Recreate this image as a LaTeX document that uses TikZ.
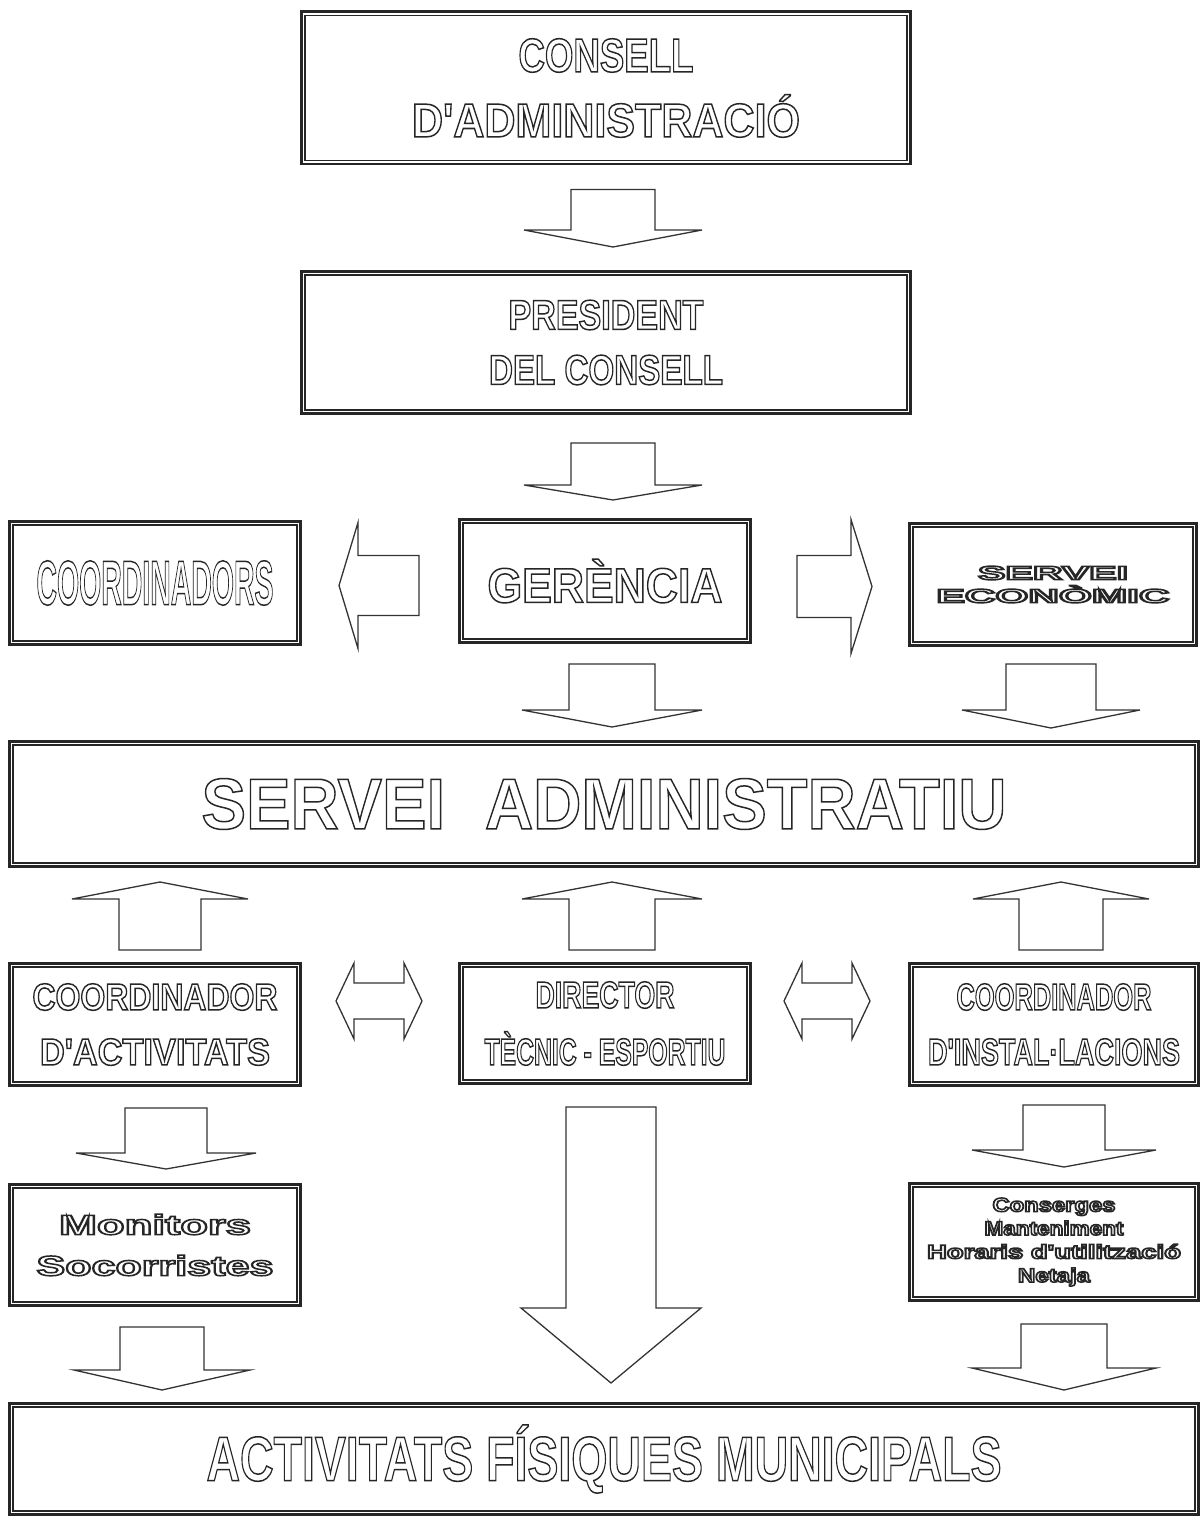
\documentclass[tikz,border=0pt]{standalone}
\usepackage{fontspec}
\usepackage{graphicx}
\usetikzlibrary{calc}
\newfontfamily\orgfont{Liberation Sans}
% hollow letters: stroke the glyph outlines only
\newcommand{\hollow}[1]{\special{pdf:literal direct 1 Tr 1.5 w}#1\special{pdf:literal direct 0 Tr}}
\newcommand{\fitline}[2]{\resizebox{#1pt}{\height}{\hollow{#2}}}
% block arrow between two node anchors, vertical: (xshift:gap from:gap to:shaft:head:head length)
\def\vblock(#1)(#2)(#3:#4:#5:#6:#7:#8){\draw[blockarrow] let \p1=(#1), \p2=(#2), \n1={ifthenelse(\y2>\y1,1,-1)}, \n2={\x1+(#3)}, \n3={\y1+\n1*#4}, \n4={\y2-\n1*#5}, \n5={\n4-\n1*#8} in ({\n2-#6},\n3) -- ({\n2+#6},\n3) -- ({\n2+#6},\n5) -- ({\n2+#7},\n5) -- (\n2,\n4) -- ({\n2-#7},\n5) -- ({\n2-#6},\n5) -- cycle;}
% horizontal: (yshift:gap from:gap to:shaft:head:head length)
\def\hblock(#1)(#2)(#3:#4:#5:#6:#7:#8){\draw[blockarrow] let \p1=(#1), \p2=(#2), \n1={ifthenelse(\x2>\x1,1,-1)}, \n2={\y1+(#3)}, \n3={\x1+\n1*#4}, \n4={\x2-\n1*#5}, \n5={\n4-\n1*#8} in (\n3,{\n2-#6}) -- (\n5,{\n2-#6}) -- (\n5,{\n2-#7}) -- (\n4,\n2) -- (\n5,{\n2+#7}) -- (\n5,{\n2+#6}) -- (\n3,{\n2+#6}) -- cycle;}
% double headed, left node east to right node west
\def\dblock(#1)(#2)(#3:#4:#5:#6:#7:#8){\draw[blockarrow] let \p1=(#1), \p2=(#2), \n2={\y1+(#3)}, \n3={\x1+#4}, \n4={\x2-#5}, \n5={\n3+#8}, \n6={\n4-#8} in (\n3,\n2) -- (\n5,{\n2+#7}) -- (\n5,{\n2+#6}) -- (\n6,{\n2+#6}) -- (\n6,{\n2+#7}) -- (\n4,\n2) -- (\n6,{\n2-#7}) -- (\n6,{\n2-#6}) -- (\n5,{\n2-#6}) -- (\n5,{\n2-#7}) -- cycle;}

\tikzset{
  orgbox/.style={draw=black!85, line width=2.6pt, inner sep=0pt, align=center, text=black!85,
    append after command={\pgfextra{\draw[line width=1.2pt, draw=black!85] ([shift={(5pt,5pt)}]\tikzlastnode.south west) rectangle ([shift={(-5pt,-5pt)}]\tikzlastnode.north east);}}},
  blockarrow/.style={draw=black!80, line width=1.3pt, fill=white, line join=miter}
}

\begin{document}
\begin{tikzpicture}[x=1pt, y=1pt]
			%%%%% START %%%%%
			\path[use as bounding box, fill=white] (0,0) rectangle (1202,-1522);
			
			\node[orgbox, minimum width=609.4, minimum height=152.4, font={\orgfont\bfseries\fontsize{47.5}{65}\selectfont}] (cons) at (606,-88) {\fitline{175}{CONSELL}\\\fitline{388}{D'ADMINISTRACIÓ}};
			\node[orgbox, minimum width=609.4, minimum height=142.4, font={\orgfont\bfseries\fontsize{42}{55}\selectfont}] (pres) at (606,-342.5) {\fitline{195}{PRESIDENT}\\\fitline{234}{DEL CONSELL}};
			
			\node[orgbox, minimum width=291.4, minimum height=123.4, font={\orgfont\bfseries\fontsize{63}{70}\selectfont}] (coord) at (155,-583) {\fitline{237}{COORDINADORS}};
			\node[orgbox, minimum width=291.4, minimum height=123.4, font={\orgfont\bfseries\fontsize{49}{60}\selectfont}] (ger) at (605,-581) {\fitline{235}{GERÈNCIA}};
			\node[orgbox, minimum width=287.4, minimum height=122.4, font={\orgfont\bfseries\fontsize{19.5}{23}\selectfont}] (seco) at (1053,-584.5) {\fitline{150}{SERVEI}\\\fitline{233}{ECONÒMIC}};
			
			\node[orgbox, minimum width=1189.4, minimum height=125.4, font={\orgfont\bfseries\fontsize{72}{80}\selectfont}] (sadm) at (604,-804) {\fitline{805}{SERVEI\hspace{0.6em}ADMINISTRATIU}};
			
			\node[orgbox, minimum width=291.4, minimum height=122.4, font={\orgfont\bfseries\fontsize{37.7}{55}\selectfont}] (cact) at (155,-1024.5) {\fitline{245}{COORDINADOR}\\\fitline{230}{D'ACTIVITATS}};
			\node[orgbox, minimum width=291.4, minimum height=120.4, font={\orgfont\bfseries\fontsize{37.7}{57}\selectfont}] (dir) at (605,-1023.5) {\fitline{139}{DIRECTOR}\\\fitline{241}{TÈCNIC - ESPORTIU}};
			\node[orgbox, minimum width=289.4, minimum height=122.4, font={\orgfont\bfseries\fontsize{37.7}{55}\selectfont}] (cins) at (1054,-1024.5) {\fitline{195}{COORDINADOR}\\\fitline{252}{D'INSTAL·LACIONS}};
			
			\node[orgbox, minimum width=291.4, minimum height=121.4, font={\orgfont\bfseries\fontsize{28}{41}\selectfont}] (mon) at (155,-1245) {\fitline{192}{Monitors}\\\fitline{237}{Socorristes}};
			\node[orgbox, minimum width=289.4, minimum height=117.4, font={\orgfont\bfseries\fontsize{19.5}{23.5}\selectfont}] (serv) at (1054,-1242) {\fitline{123}{Conserges}\\\fitline{139}{Manteniment}\\\fitline{254}{Horaris d'utilització}\\\fitline{72}{Netaja}};
			
			\node[orgbox, minimum width=1189.4, minimum height=111.4, font={\orgfont\bfseries\fontsize{63}{70}\selectfont}] (afm) at (604,-1459) {\fitline{795}{ACTIVITATS FÍSIQUES MUNICIPALS}};
			
			\vblock(cons.south)(pres.north)(7:24:23:42:89:17);
			\vblock(pres.south)(ger.north)(7:28:18:42:89:15);
			\vblock(ger.south)(sadm.north)(7:20:13:43:90:17);
			\vblock(seco.south)(sadm.north)(-2:17:12:45:89:18);
			
			\hblock(ger.west)(coord.east)(-4.5:39:37:30:63:19);
			\hblock(ger.east)(seco.west)(-5.5:45:36:31:67:21);
			
			\vblock(cact.north)(sadm.south)(5:12:14:41:88:17);
			\vblock(dir.north)(sadm.south)(7:12:14:43:90:17);
			\vblock(cins.north)(sadm.south)(7:12:14:42:88:17);
			
			\dblock(cact.east)(dir.west)(23.5:34:36:18:38:18);
			\dblock(dir.east)(cins.west)(22.5:32:38:18:38:18);
			
			\vblock(cact.south)(mon.north)(11:21:14:41:90:16);
			\vblock(cins.south)(serv.north)(10:18:15:41:92:17);
			\vblock(dir.south)(afm.north)(6:22:19:45:90:75);
			\vblock(mon.south)(afm.north)(7:20:12:42:88:20);
			\vblock(serv.south)(afm.north)(10:22:12:43:92:22);
			
			%%%%% END %%%%%
\end{tikzpicture}
\end{document}
